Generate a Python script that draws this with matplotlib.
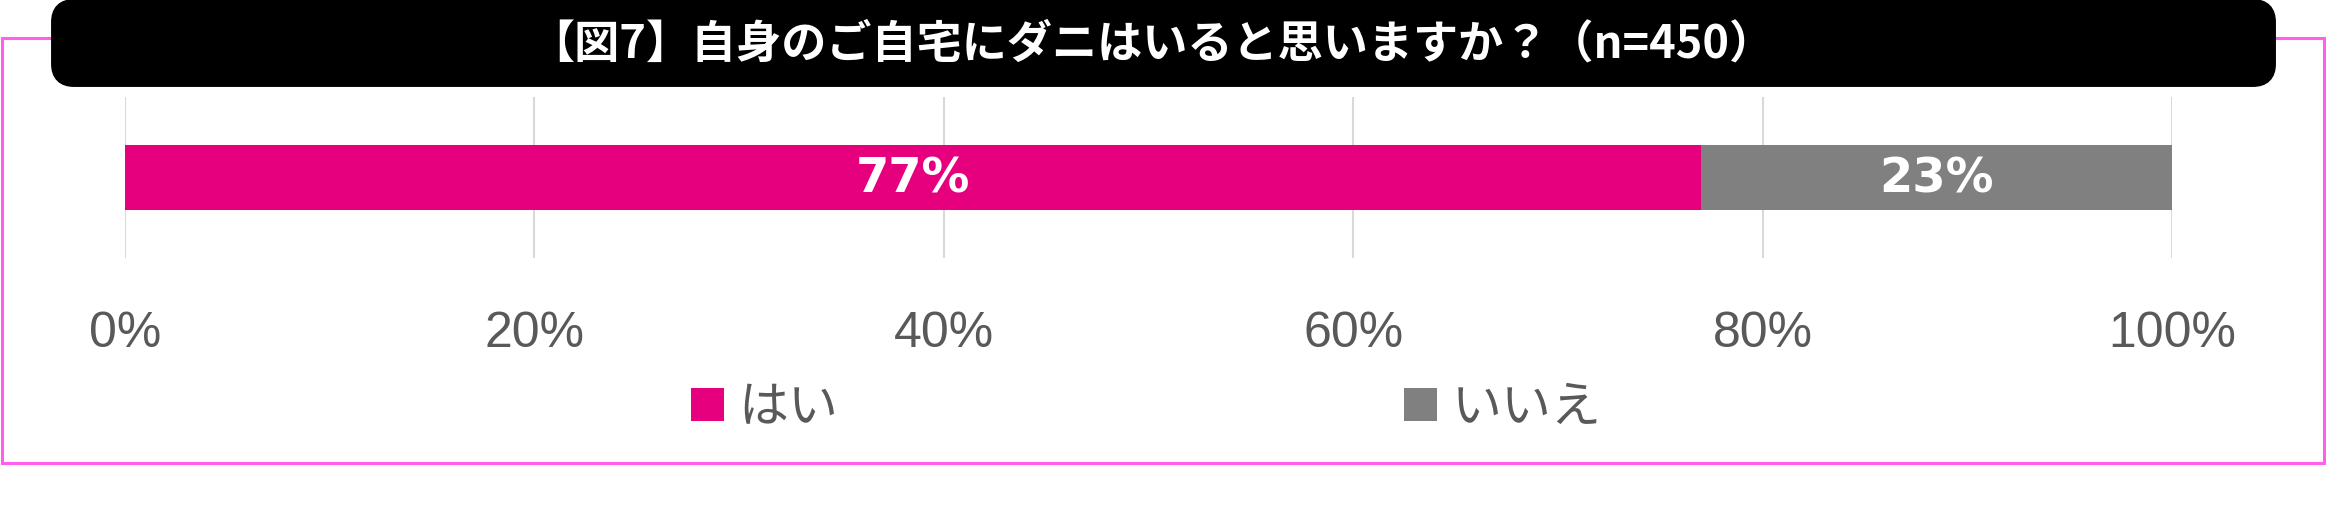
import matplotlib
matplotlib.use("Agg")
import matplotlib.pyplot as plt
from matplotlib.patches import FancyBboxPatch, Rectangle, Patch

plt.rcParams['font.family'] = ['Noto Sans CJK JP', 'DejaVu Sans']

title = "【図7】自身のご自宅にダニはいると思いますか？（n=450）"
categories = ["はい", "いいえ"]
values = [77, 23]
colors = ["#E6007E", "#808080"]
xticks = [0, 20, 40, 60, 80, 100]
xticklabels = ["0%", "20%", "40%", "60%", "80%", "100%"]

W, H = 2327, 516
fig = plt.figure(figsize=(W / 100, H / 100), dpi=100)

# decoration layer in pixel coordinates
bg = fig.add_axes([0, 0, 1, 1], zorder=0)
bg.set_xlim(0, W)
bg.set_ylim(H, 0)
bg.axis("off")
bg.add_patch(Rectangle((1.5, 38), W - 5, 425, fill=False, edgecolor="#FF5FEB", linewidth=2.2))
bg.add_patch(FancyBboxPatch((58, 6), 2211, 74, boxstyle="round,pad=0,rounding_size=16",
                            facecolor="black", edgecolor="black", linewidth=10))
bg.text(1152, 44, title, color="white", fontsize=32.5, fontweight="bold",
        ha="center", va="center")

ax = fig.add_axes([125 / W, 1 - 258 / H, (2172 - 125) / W, 161 / H], zorder=1)
ax.patch.set_alpha(0)
left = 0
for cat, v, c in zip(categories, values, colors):
    ax.barh(0, v, left=left, height=0.4, color=c, label=cat, zorder=2)
    ax.text(left + v / 2, -0.01, f"{v}%", ha="center", va="center", color="white",
            fontsize=34.5, fontweight="bold", family=["DejaVu Sans"], zorder=3)
    left += v
ax.set_xlim(0, 100)
ax.set_ylim(-0.5, 0.5)
ax.set_yticks([])
ax.set_xticks(xticks)
ax.set_xticklabels(xticklabels, family=["Liberation Sans"], fontsize=36, color="#595959")
ax.tick_params(axis="x", length=0, pad=38)
ax.grid(axis="x", color="#D9D9D9", linewidth=1.5, zorder=0)
for s in ax.spines.values():
    s.set_visible(False)

handles = [Patch(facecolor=c, edgecolor="none") for c in colors]
leg = fig.legend(handles, categories, loc="center", bbox_to_anchor=(1146 / W, 1 - 408 / H),
                 ncol=2, frameon=False, fontsize=36, handlelength=0.66, handleheight=0.66,
                 handletextpad=0.3, columnspacing=11.3, labelcolor="#595959")

fig.savefig("out.png", dpi=100)
